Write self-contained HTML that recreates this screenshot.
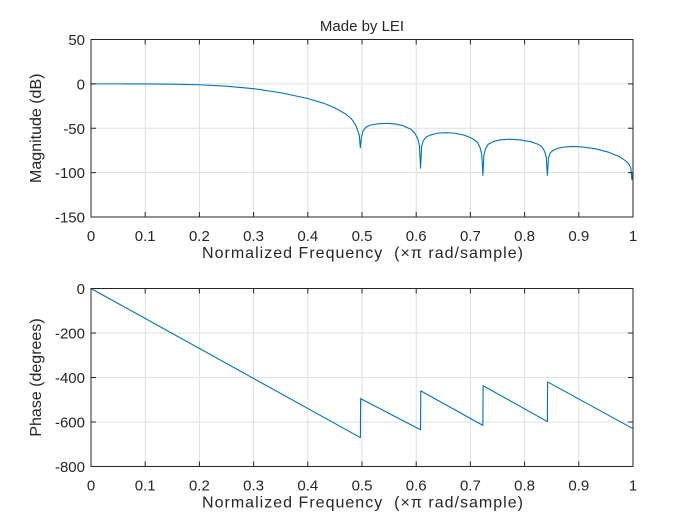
<!DOCTYPE html>
<html><head><meta charset="utf-8"><style>
body{margin:0;background:#fff;}
svg{display:block;font-family:"Liberation Sans",sans-serif;}
</style></head><body>
<svg id="fig" width="700" height="525"></svg>
<script>
const freqMag=[0,0.05,0.1,0.15,0.2,0.25,0.3,0.35,0.4,0.43,0.45,0.47,0.48,0.487,0.492,0.495,0.497,0.499,0.502,0.507,0.515,0.53,0.545,0.56,0.575,0.59,0.598,0.603,0.606,0.608,0.61,0.613,0.618,0.627,0.64,0.655,0.67,0.69,0.705,0.713,0.718,0.721,0.723,0.725,0.728,0.733,0.742,0.755,0.77,0.79,0.81,0.825,0.832,0.837,0.84,0.842,0.844,0.847,0.852,0.862,0.875,0.89,0.905,0.93,0.955,0.975,0.987,0.993,0.996,0.998,1];
const magDb=[0,0,-0.1,-0.3,-1,-2.6,-5.4,-10,-16.5,-22,-27,-34,-39,-45,-52,-58,-72,-60,-53,-49,-46.5,-45,-44.5,-45,-47,-51,-56,-62,-70,-95,-71,-64,-60,-57.5,-55.5,-55,-55.5,-58,-62,-66,-72,-80,-103,-80,-73,-68,-65,-63,-62.5,-63,-65,-68,-71,-76,-83,-103,-84,-78,-75,-72.5,-71,-70.5,-71,-73,-77,-82,-87,-91,-95,-108,-100];
const freqPh=[0,0.497,0.4975,0.608,0.6085,0.723,0.7235,0.842,0.8425,1];
const phaseDeg=[0,-670,-495,-635,-460,-615,-437,-598,-420,-630];
const xTicks=[0,0.1,0.2,0.3,0.4,0.5,0.6,0.7,0.8,0.9,1];
const magTicks=[50,0,-50,-100,-150];
const phTicks=[0,-200,-400,-600,-800];

const svg=document.getElementById('fig');
const NS='http://www.w3.org/2000/svg';
function mk(t,a,p){const e=document.createElementNS(NS,t);for(const k in a)e.setAttribute(k,a[k]);(p||svg).appendChild(e);return e;}
const X0=91,X1=633;
function xs(v){return X0+(X1-X0)*v;}
function drawAxes(top,bot,ymax,ymin,yt,xs_,ys_,ylab,prefix){
  const g=mk('g',{});
  
  
  const ysc=v=>top+(bot-top)*(ymax-v)/(ymax-ymin);
  xTicks.forEach(t=>{const l=mk('line',{x1:xs(t),x2:xs(t),y1:top,y2:bot,stroke:'#dfdfdf','stroke-width':1},g);});
  yt.forEach(t=>{const l=mk('line',{x1:X0,x2:X1,y1:ysc(t),y2:ysc(t),stroke:'#dfdfdf','stroke-width':1},g);});
  let pts=xs_.map((f,i)=>xs(f).toFixed(2)+','+ysc(ys_[i]).toFixed(2)).join(' ');
  const pl=mk('polyline',{points:pts,fill:'none',stroke:'#0072bd','stroke-width':1.1,'stroke-linejoin':'round'},g);
  
  
  const r=mk('rect',{x:X0,y:top,width:X1-X0,height:bot-top,fill:'none',stroke:'#262626','stroke-width':1},g);
  
  
  xTicks.forEach(t=>{
    mk('line',{x1:xs(t),x2:xs(t),y1:bot,y2:bot-5,stroke:'#262626'},g);
    mk('line',{x1:xs(t),x2:xs(t),y1:top,y2:top+5,stroke:'#262626'},g);
    const tx=mk('text',{x:xs(t),y:bot+24,'text-anchor':'middle','font-size':15,fill:'#262626'},g);tx.textContent=String(t);
    
    
  });
  yt.forEach(t=>{
    mk('line',{x1:X0,x2:X0+5,y1:ysc(t),y2:ysc(t),stroke:'#262626'},g);
    mk('line',{x1:X1,x2:X1-5,y1:ysc(t),y2:ysc(t),stroke:'#262626'},g);
    const tx=mk('text',{x:X0-6,y:ysc(t)+5.5,'text-anchor':'end','font-size':15,fill:'#262626'},g);tx.textContent=String(t);
    
    
  });
  const xl=mk('text',{x:202,y:bot+41,'font-size':16,fill:'#262626',textLength:321,lengthAdjust:'spacing'},g);
  xl.textContent='Normalized Frequency\u00a0\u00a0(\u00d7\u03c0 rad/sample)';
  
  
  const cy=(top+bot)/2;
  const yl=mk('text',{x:0,y:0,transform:`translate(41,${cy}) rotate(-90)`,'text-anchor':'middle','font-size':16,fill:'#262626'},g);
  yl.textContent=ylab;
  
  
}
drawAxes(39.5,217,50,-150,magTicks,freqMag,magDb,'Magnitude (dB)','magnitude');
drawAxes(288.5,466.5,0,-800,phTicks,freqPh,phaseDeg,'Phase (degrees)','phase');
const t=mk('text',{x:362,y:31,'text-anchor':'middle','font-size':15,fill:'#262626'});
t.textContent='Made by LEI';


</script>
</body></html>
